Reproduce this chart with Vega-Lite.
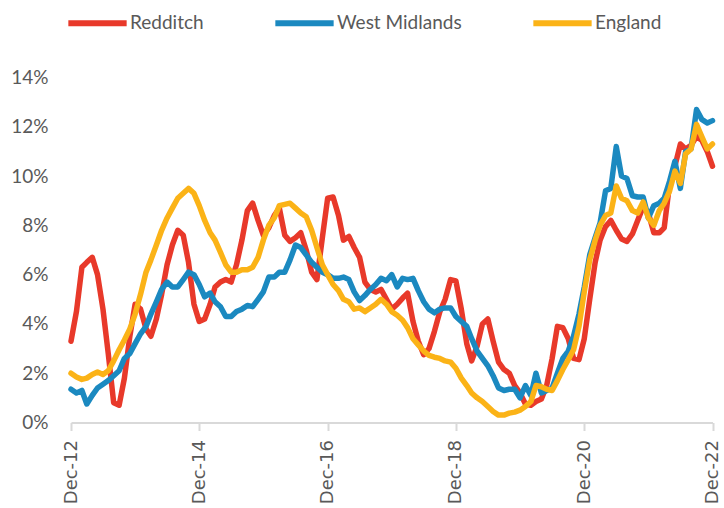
{
  "$schema": "https://vega.github.io/schema/vega-lite/v6.json",
  "width": 641.5,
  "height": 345,
  "autosize": "none",
  "padding": {"left": 71, "top": 77.5, "right": 11.5, "bottom": 85.5},
  "background": "white",
  "config": {"view": {"stroke": null}},
  "data": {"values": [
    {"date":"2012/12/01","Redditch":3.3,"West Midlands":1.35,"England":2.0},
    {"date":"2013/01/01","Redditch":4.5,"West Midlands":1.2,"England":1.85},
    {"date":"2013/02/01","Redditch":6.3,"West Midlands":1.3,"England":1.75},
    {"date":"2013/03/01","Redditch":6.5,"West Midlands":0.75,"England":1.8},
    {"date":"2013/04/01","Redditch":6.7,"West Midlands":1.1,"England":1.95},
    {"date":"2013/05/01","Redditch":6.0,"West Midlands":1.4,"England":2.05},
    {"date":"2013/06/01","Redditch":4.6,"West Midlands":1.55,"England":1.95},
    {"date":"2013/07/01","Redditch":2.8,"West Midlands":1.7,"England":2.1},
    {"date":"2013/08/01","Redditch":0.8,"West Midlands":1.9,"England":2.5},
    {"date":"2013/09/01","Redditch":0.7,"West Midlands":2.1,"England":2.95},
    {"date":"2013/10/01","Redditch":1.8,"West Midlands":2.6,"England":3.35},
    {"date":"2013/11/01","Redditch":3.5,"West Midlands":2.8,"England":3.8},
    {"date":"2013/12/01","Redditch":4.8,"West Midlands":3.2,"England":4.4},
    {"date":"2014/01/01","Redditch":4.6,"West Midlands":3.6,"England":5.2},
    {"date":"2014/02/01","Redditch":3.8,"West Midlands":3.9,"England":6.1},
    {"date":"2014/03/01","Redditch":3.5,"West Midlands":4.4,"England":6.6},
    {"date":"2014/04/01","Redditch":4.2,"West Midlands":4.9,"England":7.2},
    {"date":"2014/05/01","Redditch":5.2,"West Midlands":5.4,"England":7.8},
    {"date":"2014/06/01","Redditch":6.4,"West Midlands":5.7,"England":8.3},
    {"date":"2014/07/01","Redditch":7.2,"West Midlands":5.5,"England":8.7},
    {"date":"2014/08/01","Redditch":7.8,"West Midlands":5.5,"England":9.1},
    {"date":"2014/09/01","Redditch":7.6,"West Midlands":5.8,"England":9.3},
    {"date":"2014/10/01","Redditch":6.5,"West Midlands":6.1,"England":9.5},
    {"date":"2014/11/01","Redditch":4.8,"West Midlands":6.0,"England":9.3},
    {"date":"2014/12/01","Redditch":4.1,"West Midlands":5.6,"England":8.8},
    {"date":"2015/01/01","Redditch":4.2,"West Midlands":5.1,"England":8.2},
    {"date":"2015/02/01","Redditch":4.8,"West Midlands":5.25,"England":7.7},
    {"date":"2015/03/01","Redditch":5.5,"West Midlands":4.9,"England":7.4},
    {"date":"2015/04/01","Redditch":5.7,"West Midlands":4.7,"England":6.9},
    {"date":"2015/05/01","Redditch":5.8,"West Midlands":4.3,"England":6.4},
    {"date":"2015/06/01","Redditch":5.7,"West Midlands":4.3,"England":6.1},
    {"date":"2015/07/01","Redditch":6.4,"West Midlands":4.5,"England":6.1},
    {"date":"2015/08/01","Redditch":7.4,"West Midlands":4.6,"England":6.2},
    {"date":"2015/09/01","Redditch":8.6,"West Midlands":4.75,"England":6.2},
    {"date":"2015/10/01","Redditch":8.9,"West Midlands":4.7,"England":6.3},
    {"date":"2015/11/01","Redditch":8.2,"West Midlands":5.0,"England":6.7},
    {"date":"2015/12/01","Redditch":7.6,"West Midlands":5.3,"England":7.4},
    {"date":"2016/01/01","Redditch":7.9,"West Midlands":5.9,"England":8.0},
    {"date":"2016/02/01","Redditch":8.4,"West Midlands":5.9,"England":8.3},
    {"date":"2016/03/01","Redditch":8.7,"West Midlands":6.1,"England":8.8},
    {"date":"2016/04/01","Redditch":7.6,"West Midlands":6.1,"England":8.85},
    {"date":"2016/05/01","Redditch":7.35,"West Midlands":6.6,"England":8.9},
    {"date":"2016/06/01","Redditch":7.5,"West Midlands":7.2,"England":8.7},
    {"date":"2016/07/01","Redditch":7.7,"West Midlands":7.1,"England":8.5},
    {"date":"2016/08/01","Redditch":7.0,"West Midlands":6.8,"England":8.35},
    {"date":"2016/09/01","Redditch":6.1,"West Midlands":6.5,"England":7.8},
    {"date":"2016/10/01","Redditch":5.8,"West Midlands":6.3,"England":7.1},
    {"date":"2016/11/01","Redditch":7.5,"West Midlands":6.1,"England":6.4},
    {"date":"2016/12/01","Redditch":9.1,"West Midlands":6.0,"England":6.0},
    {"date":"2017/01/01","Redditch":9.15,"West Midlands":5.85,"England":5.6},
    {"date":"2017/02/01","Redditch":8.4,"West Midlands":5.85,"England":5.35},
    {"date":"2017/03/01","Redditch":7.4,"West Midlands":5.9,"England":5.0},
    {"date":"2017/04/01","Redditch":7.55,"West Midlands":5.8,"England":4.9},
    {"date":"2017/05/01","Redditch":7.1,"West Midlands":5.3,"England":4.6},
    {"date":"2017/06/01","Redditch":6.7,"West Midlands":4.95,"England":4.65},
    {"date":"2017/07/01","Redditch":5.7,"West Midlands":5.15,"England":4.5},
    {"date":"2017/08/01","Redditch":5.4,"West Midlands":5.4,"England":4.65},
    {"date":"2017/09/01","Redditch":5.3,"West Midlands":5.6,"England":4.8},
    {"date":"2017/10/01","Redditch":5.4,"West Midlands":5.85,"England":5.0},
    {"date":"2017/11/01","Redditch":5.0,"West Midlands":5.75,"England":4.8},
    {"date":"2017/12/01","Redditch":4.6,"West Midlands":6.0,"England":4.5},
    {"date":"2018/01/01","Redditch":4.8,"West Midlands":5.5,"England":4.35},
    {"date":"2018/02/01","Redditch":5.05,"West Midlands":5.85,"England":4.15},
    {"date":"2018/03/01","Redditch":5.25,"West Midlands":5.8,"England":3.85},
    {"date":"2018/04/01","Redditch":4.1,"West Midlands":5.85,"England":3.4},
    {"date":"2018/05/01","Redditch":3.3,"West Midlands":5.35,"England":3.15},
    {"date":"2018/06/01","Redditch":2.75,"West Midlands":4.9,"England":2.9},
    {"date":"2018/07/01","Redditch":3.0,"West Midlands":4.6,"England":2.72},
    {"date":"2018/08/01","Redditch":3.7,"West Midlands":4.45,"England":2.65},
    {"date":"2018/09/01","Redditch":4.5,"West Midlands":4.6,"England":2.6},
    {"date":"2018/10/01","Redditch":5.0,"West Midlands":4.65,"England":2.5},
    {"date":"2018/11/01","Redditch":5.8,"West Midlands":4.65,"England":2.45},
    {"date":"2018/12/01","Redditch":5.75,"West Midlands":4.3,"England":2.2},
    {"date":"2019/01/01","Redditch":4.6,"West Midlands":4.1,"England":1.8},
    {"date":"2019/02/01","Redditch":3.2,"West Midlands":3.9,"England":1.5},
    {"date":"2019/03/01","Redditch":2.5,"West Midlands":3.4,"England":1.2},
    {"date":"2019/04/01","Redditch":3.1,"West Midlands":2.9,"England":1.0},
    {"date":"2019/05/01","Redditch":4.0,"West Midlands":2.6,"England":0.85},
    {"date":"2019/06/01","Redditch":4.2,"West Midlands":2.3,"England":0.65},
    {"date":"2019/07/01","Redditch":3.3,"West Midlands":1.9,"England":0.45},
    {"date":"2019/08/01","Redditch":2.45,"West Midlands":1.4,"England":0.3},
    {"date":"2019/09/01","Redditch":2.15,"West Midlands":1.3,"England":0.3},
    {"date":"2019/10/01","Redditch":2.0,"West Midlands":1.35,"England":0.38},
    {"date":"2019/11/01","Redditch":1.5,"West Midlands":1.35,"England":0.42},
    {"date":"2019/12/01","Redditch":1.2,"West Midlands":1.0,"England":0.5},
    {"date":"2020/01/01","Redditch":0.75,"West Midlands":1.5,"England":0.65},
    {"date":"2020/02/01","Redditch":0.7,"West Midlands":1.1,"England":0.85},
    {"date":"2020/03/01","Redditch":0.85,"West Midlands":2.0,"England":1.5},
    {"date":"2020/04/01","Redditch":0.95,"West Midlands":1.2,"England":1.45},
    {"date":"2020/05/01","Redditch":1.5,"West Midlands":1.3,"England":1.35},
    {"date":"2020/06/01","Redditch":2.6,"West Midlands":1.4,"England":1.3},
    {"date":"2020/07/01","Redditch":3.9,"West Midlands":2.0,"England":1.7},
    {"date":"2020/08/01","Redditch":3.85,"West Midlands":2.6,"England":2.15},
    {"date":"2020/09/01","Redditch":3.4,"West Midlands":2.9,"England":2.55},
    {"date":"2020/10/01","Redditch":2.6,"West Midlands":3.5,"England":2.95},
    {"date":"2020/11/01","Redditch":2.55,"West Midlands":4.4,"England":3.9},
    {"date":"2020/12/01","Redditch":3.4,"West Midlands":5.5,"England":5.3},
    {"date":"2021/01/01","Redditch":5.0,"West Midlands":6.8,"England":6.6},
    {"date":"2021/02/01","Redditch":6.5,"West Midlands":7.5,"England":7.4},
    {"date":"2021/03/01","Redditch":7.4,"West Midlands":8.1,"England":8.0},
    {"date":"2021/04/01","Redditch":7.95,"West Midlands":9.4,"England":8.4},
    {"date":"2021/05/01","Redditch":8.2,"West Midlands":9.5,"England":8.5},
    {"date":"2021/06/01","Redditch":7.8,"West Midlands":11.2,"England":9.6},
    {"date":"2021/07/01","Redditch":7.45,"West Midlands":10.0,"England":9.1},
    {"date":"2021/08/01","Redditch":7.35,"West Midlands":9.9,"England":9.0},
    {"date":"2021/09/01","Redditch":7.65,"West Midlands":9.2,"England":8.6},
    {"date":"2021/10/01","Redditch":8.2,"West Midlands":9.15,"England":8.5},
    {"date":"2021/11/01","Redditch":8.75,"West Midlands":9.15,"England":8.95},
    {"date":"2021/12/01","Redditch":8.5,"West Midlands":8.3,"England":8.3},
    {"date":"2022/01/01","Redditch":7.7,"West Midlands":8.8,"England":8.0},
    {"date":"2022/02/01","Redditch":7.7,"West Midlands":8.9,"England":8.6},
    {"date":"2022/03/01","Redditch":7.9,"West Midlands":9.1,"England":8.9},
    {"date":"2022/04/01","Redditch":9.7,"West Midlands":9.8,"England":9.4},
    {"date":"2022/05/01","Redditch":10.4,"West Midlands":10.6,"England":10.2},
    {"date":"2022/06/01","Redditch":11.3,"West Midlands":9.5,"England":9.7},
    {"date":"2022/07/01","Redditch":11.1,"West Midlands":11.0,"England":10.9},
    {"date":"2022/08/01","Redditch":11.25,"West Midlands":11.1,"England":11.1},
    {"date":"2022/09/01","Redditch":11.6,"West Midlands":12.7,"England":12.1},
    {"date":"2022/10/01","Redditch":11.45,"West Midlands":12.3,"England":11.6},
    {"date":"2022/11/01","Redditch":11.0,"West Midlands":12.15,"England":11.1},
    {"date":"2022/12/01","Redditch":10.4,"West Midlands":12.25,"England":11.3}
  ]},
  "transform": [{"fold": ["Redditch", "West Midlands", "England"], "as": ["series", "rate"]}],
  "mark": {"type": "line", "strokeWidth": 5.5, "strokeJoin": "round", "strokeCap": "round"},
  "encoding": {
    "x": {
      "field": "date", "type": "temporal",
      "scale": {"domain": [{"year": 2012, "month": 12, "date": 1}, {"year": 2022, "month": 12, "date": 1}]},
      "axis": {
        "title": null,
        "values": [{"year": 2012, "month": 12, "date": 1}, {"year": 2014, "month": 12, "date": 1}, {"year": 2016, "month": 12, "date": 1}, {"year": 2018, "month": 12, "date": 1}, {"year": 2020, "month": 12, "date": 1}, {"year": 2022, "month": 12, "date": 1}],
        "format": "%b-%y",
        "labelAngle": -90,
        "labelFont": "DejaVu Sans",
        "labelFontSize": 18,
        "labelColor": "#595959",
        "labelPadding": 9,
        "labelFlush": false,
        "labelOverlap": false,
        "domainColor": "#d9d9d9",
        "domainWidth": 2,
        "tickColor": "#d9d9d9",
        "tickWidth": 2,
        "tickSize": 8,
        "grid": false
      }
    },
    "y": {
      "field": "rate", "type": "quantitative",
      "scale": {"domain": [0, 14], "nice": false},
      "axis": {
        "title": null,
        "values": [0, 2, 4, 6, 8, 10, 12, 14],
        "labelExpr": "datum.value + '%'",
        "labelFont": "Lato",
        "labelFontSize": 19,
        "labelColor": "#595959",
        "labelPadding": 23,
        "ticks": false,
        "domain": false,
        "grid": false
      }
    },
    "color": {
      "field": "series", "type": "nominal",
      "scale": {"domain": ["Redditch", "West Midlands", "England"], "range": ["#E8392A", "#1B89C0", "#FBB317"]},
      "legend": {
        "title": null,
        "orient": "none",
        "direction": "horizontal",
        "legendX": -6,
        "legendY": -87,
        "padding": 0,
        "symbolType": "stroke",
        "symbolSize": 3400,
        "symbolStrokeWidth": 6,
        "labelFont": "Lato",
        "labelFontSize": 19,
        "labelColor": "#595959",
        "labelOffset": 0,
        "columnPadding": 59,
        "labelLimit": 300
      }
    }
  }
}
